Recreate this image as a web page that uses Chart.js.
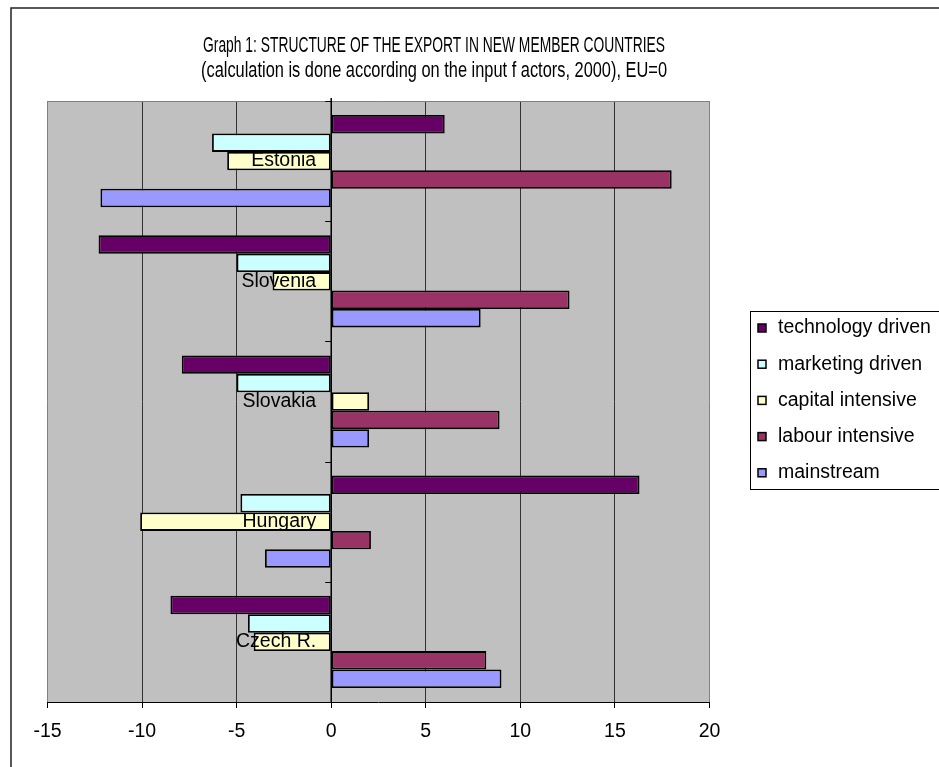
<!DOCTYPE html>
<html>
<head>
<meta charset="utf-8">
<script src="https://cdn.jsdelivr.net/npm/chart.js@4/dist/chart.umd.min.js"></script>
<style>
  html, body { margin: 0; padding: 0; background: #fff; }
  #wrap { width: 939px; height: 767px; position: relative; }
</style>
</head>
<body>
<div id="wrap"><canvas id="c"></canvas></div>
<script>
// Categories (top to bottom) and export-structure indices per input factor (EU = 0)
const countries = ['Estonia', 'Slovenia', 'Slovakia', 'Hungary', 'Czech R.'];
const technologyDriven = [6.0, -12.3, -7.9, 16.3, -8.5];
const marketingDriven  = [-6.3, -5.0, -5.0, -4.8, -4.4];
const capitalIntensive = [-5.5, -3.1, 2.0, -10.1, -4.1];
const labourIntensive  = [18.0, 12.6, 8.9, 2.1, 8.2];
const mainstream       = [-12.2, 7.9, 2.0, -3.5, 9.0];
const seriesNames = ['technology driven', 'marketing driven', 'capital intensive', 'labour intensive', 'mainstream'];
const xTicks = [-15, -10, -5, 0, 5, 10, 15, 20];
const titleLines = [
  'Graph 1: STRUCTURE OF THE EXPORT IN NEW MEMBER COUNTRIES',
  '(calculation is done according on the input f actors, 2000), EU=0'
];

const FONT = "'Liberation Sans', Arial, Helvetica, sans-serif";
const seriesColors = ['#660066', '#CCFFFF', '#FFFFCC', '#993366', '#9999FF'];
const seriesValues = [technologyDriven, marketingDriven, capitalIntensive, labourIntensive, mainstream];

function seg(ctx, x1, y1, x2, y2) {
  ctx.beginPath(); ctx.moveTo(x1, y1); ctx.lineTo(x2, y2); ctx.stroke();
}

// Plot background, zero axis, category labels, title, legend and frame
const decor = {
  id: 'decor',
  beforeDraw(chart) {
    const { ctx, chartArea: a } = chart;
    ctx.save();
    ctx.fillStyle = '#C0C0C0';
    ctx.fillRect(a.left, a.top, a.right - a.left, a.bottom - a.top);
    ctx.restore();
  },
  afterDatasetsDraw(chart) {
    const { ctx, chartArea: a, scales: { x, y } } = chart;
    const x0 = x.getPixelForValue(0);
    ctx.save();
    ctx.strokeStyle = '#808080';
    ctx.lineWidth = 1;
    seg(ctx, a.left, a.top + 0.5, a.right, a.top + 0.5);

    ctx.strokeStyle = '#000';
    ctx.lineWidth = 1.5;
    seg(ctx, x0, a.top - 3, x0, a.bottom);

    ctx.lineWidth = 1;
    for (let i = 0; i <= countries.length; i++) {
      const yb = Math.round(y.getPixelForValue(i - 0.5)) + 0.5;
      seg(ctx, x0 - 6, yb, x0, yb);
    }

    ctx.fillStyle = '#000';
    ctx.font = `19.5px ${FONT}`;
    ctx.textAlign = 'right';
    ctx.textBaseline = 'middle';
    countries.forEach((name, i) => {
      ctx.fillText(name, x0 - 15, y.getPixelForValue(i));
    });
    ctx.restore();
  },
  afterDraw(chart) {
    const { ctx } = chart;
    ctx.save();

    // Two-line condensed title
    ctx.fillStyle = '#000';
    ctx.font = `22px ${FONT}`;
    ctx.textAlign = 'center';
    ctx.textBaseline = 'middle';
    const widths = [462, 466];
    [46, 71].forEach((ty, i) => {
      const sx = Math.min(1, widths[i] / ctx.measureText(titleLines[i]).width);
      ctx.save();
      ctx.translate(434, ty);
      ctx.scale(sx, 1);
      ctx.fillText(titleLines[i], 0, 0);
      ctx.restore();
    });

    // Legend box
    ctx.strokeStyle = '#000';
    ctx.lineWidth = 1;
    ctx.strokeRect(750.5, 311.5, 300, 178);
    ctx.font = `19.5px ${FONT}`;
    ctx.textAlign = 'left';
    chart.data.datasets.forEach((ds, i) => {
      const ry = 328 + i * 36.2;
      ctx.fillStyle = ds.backgroundColor;
      ctx.fillRect(758, ry - 4, 8, 8);
      ctx.lineWidth = 1.5;
      ctx.strokeRect(758, ry - 4, 8, 8);
      ctx.fillStyle = '#000';
      ctx.fillText(ds.label, 778, ry);
    });

    // Outer frame
    ctx.strokeStyle = '#222';
    ctx.lineWidth = 1.5;
    ctx.beginPath();
    ctx.moveTo(11, 767); ctx.lineTo(11, 8); ctx.lineTo(939, 8);
    ctx.stroke();
    ctx.restore();
  }
};

new Chart(document.getElementById('c'), {
  type: 'bar',
  data: {
    labels: countries,
    datasets: seriesNames.map((name, i) => ({
      label: name,
      data: seriesValues[i],
      backgroundColor: seriesColors[i],
      borderColor: '#000',
      borderWidth: 1.8,
      borderSkipped: false,
      categoryPercentage: 0.767,
      barPercentage: 1.0
    }))
  },
  options: {
    indexAxis: 'y',
    responsive: true,
    maintainAspectRatio: false,
    animation: false,
    events: [],
    layout: { padding: { left: 47.5, right: 229.5, top: 101, bottom: 0 } },
    plugins: {
      legend: { display: false },
      title: { display: false },
      tooltip: { enabled: false }
    },
    scales: {
      x: {
        type: 'linear',
        min: -15,
        max: 20,
        afterBuildTicks: (s) => { s.ticks = xTicks.map(v => ({ value: v })); },
        afterFit: (s) => { s.height = 65; },
        grid: {
          color: (c) => {
            const v = c.tick ? c.tick.value : null;
            if (v === -15 || v === 20) return '#808080';
            if (v === 0) return '#000';
            return '#333';
          },
          lineWidth: 1,
          tickLength: 6,
          tickColor: '#000'
        },
        border: { color: '#000', width: 1 },
        ticks: {
          color: '#000',
          font: { family: FONT, size: 19.5 },
          padding: 12,
          maxRotation: 0,
          autoSkip: false
        }
      },
      y: {
        type: 'category',
        display: false,
        offset: true
      }
    }
  },
  plugins: [decor]
});
</script>
</body>
</html>
